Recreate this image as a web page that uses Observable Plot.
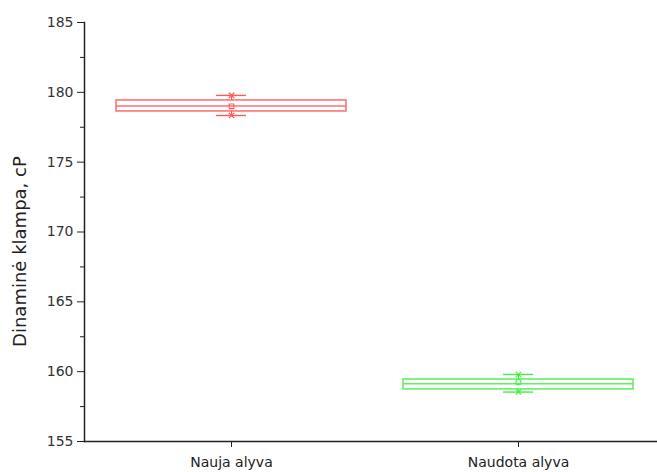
<!DOCTYPE html>
<html><head><meta charset="utf-8">
<script src="https://cdn.jsdelivr.net/npm/d3@7"></script>
<script src="https://cdn.jsdelivr.net/npm/@observablehq/plot@0.6"></script>
<style>body{margin:0;background:#fff;} svg{display:block;}</style>
</head><body><div id="chart"></div>
<script>
const categories = ["Nauja alyva", "Naudota alyva"];
const q1 = [178.63, 158.73];
const median = [179.02, 159.14];
const q3 = [179.42, 159.44];
const whiskerLow = [178.34, 158.54];
const whiskerHigh = [179.78, 159.80];
const means = [179.0, 159.25];
const meanSymbols = ["square", "circle"];
const colors = ["#ff5a5a", "#44ee44"];
const yTicks = [155, 160, 165, 170, 175, 180, 185];
const yMinor = [157.5, 162.5, 167.5, 172.5, 177.5, 182.5];
const yTitle = "Dinaminė klampa, cP";

const data = categories.map((c, i) => ({
  cat: c, q1: q1[i], med: median[i], q3: q3[i],
  lo: whiskerLow[i], hi: whiskerHigh[i], mean: means[i],
  sym: meanSymbols[i], color: colors[i]
}));

const font = "DejaVu Sans, Verdana, sans-serif";
const chart = Plot.plot({
  width: 657, height: 472,
  marginLeft: 84, marginRight: 0, marginTop: 22, marginBottom: 31,
  style: {fontFamily: font, background: "#fff"},
  x: {type: "band", domain: categories, paddingInner: 0.198, paddingOuter: 0.094, align: 0.565, label: null},
  y: {domain: [155, 185], label: null},
  marks: [
    Plot.barY(data, {x: "cat", y1: "q1", y2: "q3", fill: "none", stroke: "color", strokeWidth: 1.6, strokeOpacity: 0.85}),
    Plot.tickY(data, {x: "cat", y: "med", stroke: "color", strokeWidth: 1.6, strokeOpacity: 0.85}),
    Plot.ruleX(data, {x: "cat", y1: "lo", y2: "q1", stroke: "color", strokeWidth: 1.2}),
    Plot.ruleX(data, {x: "cat", y1: "q3", y2: "hi", stroke: "color", strokeWidth: 1.2}),
    Plot.tickY(data, {x: "cat", y: "lo", stroke: "color", strokeWidth: 1.4, inset: 100}),
    Plot.tickY(data, {x: "cat", y: "hi", stroke: "color", strokeWidth: 1.4, inset: 100}),
    Plot.dot(data, {x: "cat", y: "lo", symbol: "times", r: 2.5, stroke: "color", strokeWidth: 1.2}),
    Plot.dot(data, {x: "cat", y: "hi", symbol: "times", r: 2.5, stroke: "color", strokeWidth: 1.2}),
    Plot.dot(data, {x: "cat", y: "mean", symbol: "sym", r: 2.6, stroke: "color", fill: "none", strokeWidth: 1.1}),
    Plot.frame({anchor: "left", stroke: "#222", strokeWidth: 1.5}),
    Plot.frame({anchor: "bottom", stroke: "#222", strokeWidth: 1.5}),
    Plot.axisY({ticks: yMinor, tickSize: 4, tickFormat: () => "", stroke: "#222", label: null}),
    Plot.axisY({ticks: yTicks, tickSize: 7, tickPadding: 4, fontSize: 14, color: "#333", stroke: "#222", label: null}),
    Plot.axisX({tickSize: 6, tickPadding: 10, fontSize: 14, color: "#222", stroke: "#222", label: null}),
    Plot.text([yTitle], {text: d => d, frameAnchor: "left", y: 168.6, rotate: -90, dx: -64, fontSize: 18, fill: "#222", textAnchor: "middle", lineAnchor: "middle"})
  ]
});
document.getElementById("chart").appendChild(chart);
</script></body></html>
